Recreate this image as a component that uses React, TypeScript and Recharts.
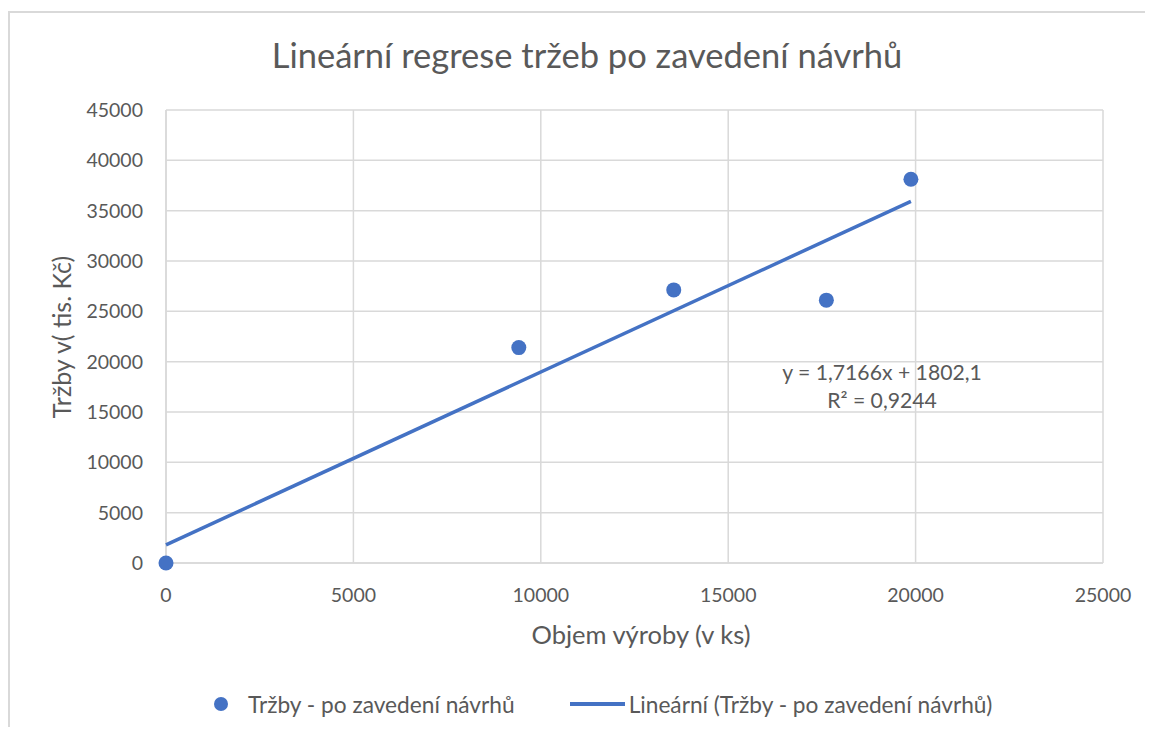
import React from 'react';
import { ScatterChart, Scatter, XAxis, YAxis, CartesianGrid, Legend, Customized } from 'recharts';

// values
const volume = [0, 9413, 13547, 17619, 19875];
const sales = [0, 21400, 27130, 26110, 38120];
const xTicks = [0, 5000, 10000, 15000, 20000, 25000];
const yTicks = [0, 5000, 10000, 15000, 20000, 25000, 30000, 35000, 40000, 45000];
const trendSlope = 1.7166;
const trendIntercept = 1802.1;

const points = volume.map((x, i) => ({ x, y: sales[i] }));
const trendEnds = [0, Math.max(...volume)];
const trend = trendEnds.map((x) => ({ x, y: trendSlope * x + trendIntercept }));

const FONT = 'Lato, sans-serif';
const TEXT = '#595959';
const BLUE = '#4472c4';
const GRID = '#d9d9d9';

const Texts = () => (
  <g fontFamily={FONT} fill={TEXT}>
    <text x={579} y={43} fontSize={34.5} textAnchor="middle" dominantBaseline="central">
      Lineární regrese tržeb po zavedení návrhů
    </text>
    <text x={633} y={623} fontSize={25.5} textAnchor="middle" dominantBaseline="central">
      Objem výroby (v ks)
    </text>
    <text
      x={53}
      y={326}
      fontSize={25}
      textAnchor="middle"
      dominantBaseline="central"
      transform="rotate(-90 53 326)"
    >
      Tržby v( tis. Kč)
    </text>
    <text x={874} y={361} fontSize={21.2} textAnchor="middle" dominantBaseline="central">
      y = 1,7166x + 1802,1
    </text>
    <text x={874} y={389} fontSize={21.2} textAnchor="middle" dominantBaseline="central">
      R² = 0,9244
    </text>
  </g>
);

const LegendBox = () => (
  <div
    style={{
      display: 'flex',
      alignItems: 'center',
      fontFamily: FONT,
      fontSize: 22.7,
      color: TEXT,
      height: 26,
      whiteSpace: 'nowrap',
    }}
  >
    <span style={{ width: 14, height: 14, borderRadius: 7, background: BLUE, display: 'inline-block' }} />
    <span style={{ marginLeft: 20 }}>Tržby - po zavedení návrhů</span>
    <span style={{ width: 55, height: 3.5, background: BLUE, display: 'inline-block', marginLeft: 55 }} />
    <span style={{ marginLeft: 4 }}>Lineární (Tržby - po zavedení návrhů)</span>
  </div>
);

const Nothing = () => <g />;

export default function App() {
  return (
    <div
      style={{
        marginTop: 3,
        marginBottom: -8,
        width: 1145,
        height: 724,
        boxSizing: 'border-box',
        borderTop: `2px solid ${GRID}`,
        borderLeft: `2px solid ${GRID}`,
        position: 'relative',
        background: '#fff',
      }}
    >
      <div style={{ position: 'absolute', left: -2, top: -2 }}>
        <ScatterChart width={1145} height={724} margin={{ top: 99, right: 50, bottom: 132, left: 0 }}>
          <CartesianGrid stroke={GRID} strokeWidth={1.5} />
          <XAxis
            type="number"
            dataKey="x"
            domain={[0, 25000]}
            ticks={xTicks}
            interval={0}
            height={40}
            tickLine={false}
            tickMargin={19}
            axisLine={{ stroke: GRID, strokeWidth: 1.5 }}
            tick={{ fill: TEXT, fontSize: 19.5, fontFamily: FONT }}
          />
          <YAxis
            type="number"
            dataKey="y"
            domain={[0, 45000]}
            ticks={yTicks}
            interval={0}
            width={158}
            tickLine={false}
            tickMargin={17}
            axisLine={{ stroke: GRID, strokeWidth: 1.5 }}
            tick={{ fill: TEXT, fontSize: 19.5, fontFamily: FONT }}
          />
          <Scatter
            name="Tržby - po zavedení návrhů"
            data={points}
            fill={BLUE}
            shape={(p: any) => <circle cx={p.cx} cy={p.cy} r={7.5} fill={BLUE} />}
            isAnimationActive={false}
          />
          <Scatter
            name="Lineární (Tržby - po zavedení návrhů)"
            data={trend}
            line={{ stroke: BLUE, strokeWidth: 3.5 }}
            lineType="joint"
            shape={Nothing}
            legendType="line"
            isAnimationActive={false}
          />
          <Legend
            layout="horizontal"
            verticalAlign="middle"
            align="center"
            wrapperStyle={{ top: 680, left: 206, width: 'auto' }}
            content={LegendBox}
          />
          <Customized component={Texts} />
        </ScatterChart>
      </div>
    </div>
  );
}
